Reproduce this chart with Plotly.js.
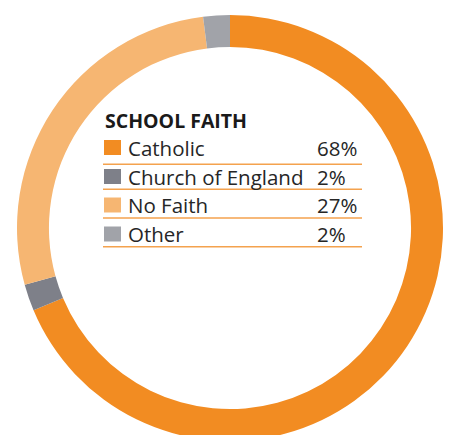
<!DOCTYPE html>
<html>
<head>
<meta charset="utf-8">
<script src="https://cdn.plot.ly/plotly-3.0.1.min.js"></script>
<style>
html,body{margin:0;padding:0;overflow:hidden;background:#fff;width:452px;height:435px;}
#chart{width:452px;height:460px;}
</style>
</head>
<body>
<div id="chart"></div>
<script>
// ---- data ----
const categories = ["Catholic", "Church of England", "No Faith", "Other"];
const values = [68, 2, 27, 2];
const percentLabels = ["68%", "2%", "27%", "2%"];
const legendTitle = "SCHOOL FAITH";

// ---- style ----
const colors = ["#F28C22", "#7E8089", "#F6B672", "#A1A3A9"];
const lineColor = "#F4A24E";

const W = 452, H = 460, L = 17, R = 9, T = 15, B = 19;
const PW = W - L - R, PH = H - T - B;
const px = v => (v - L) / PW;
const py = v => 1 - (v - T) / PH;

// legend layout (pixel positions)
const rowBaselines = [155, 184, 212.5, 241.5];
const underlineY = [164.3, 189.3, 218, 246.7];
const sqX0 = 104, sqX1 = 121, sqH = 15;
const labelX = 125.5, pctX = 314.5, lineX0 = 103, lineX1 = 362;
const fontSize = 20.5;
const textFont = "Open Sans, sans-serif";

const shapes = [];
const annotations = [];
annotations.push({
  xref: "paper", yref: "paper", x: px(102.5), y: py(128 - 7.2),
  xanchor: "left", yanchor: "middle", showarrow: false,
  text: "<b>" + legendTitle + "</b>",
  font: {family: textFont, size: 19.5, color: "#1a1a1a"}
});
categories.forEach((c, i) => {
  const b = rowBaselines[i];
  shapes.push({type: "rect", xref: "paper", yref: "paper",
    x0: px(sqX0), x1: px(sqX1), y0: py(b), y1: py(b - sqH),
    fillcolor: colors[i], line: {width: 0}});
  shapes.push({type: "line", xref: "paper", yref: "paper",
    x0: px(lineX0), x1: px(lineX1), y0: py(underlineY[i]), y1: py(underlineY[i]),
    line: {color: lineColor, width: 1.4}});
  annotations.push({xref: "paper", yref: "paper", x: px(labelX), y: py(b - 7.5),
    xanchor: "left", yanchor: "middle", showarrow: false, text: c,
    font: {family: textFont, size: fontSize, color: "#262626"}});
  annotations.push({xref: "paper", yref: "paper", x: px(pctX), y: py(b - 7.5),
    xanchor: "left", yanchor: "middle", showarrow: false, text: percentLabels[i],
    font: {family: textFont, size: fontSize, color: "#262626"}});
});

const trace = {
  type: "pie",
  labels: categories,
  values: values,
  hole: 0.85,
  sort: false,
  direction: "clockwise",
  rotation: 0,
  textinfo: "none",
  hoverinfo: "none",
  marker: {colors: colors, line: {width: 0}},
  domain: {x: [0, 1], y: [0, 1]}
};

Plotly.newPlot("chart", [trace], {
  width: W, height: H,
  margin: {l: L, r: R, t: T, b: B, pad: 0},
  showlegend: false,
  paper_bgcolor: "#fff",
  shapes: shapes,
  annotations: annotations
}, {staticPlot: true, displayModeBar: false});
</script>
</body>
</html>
